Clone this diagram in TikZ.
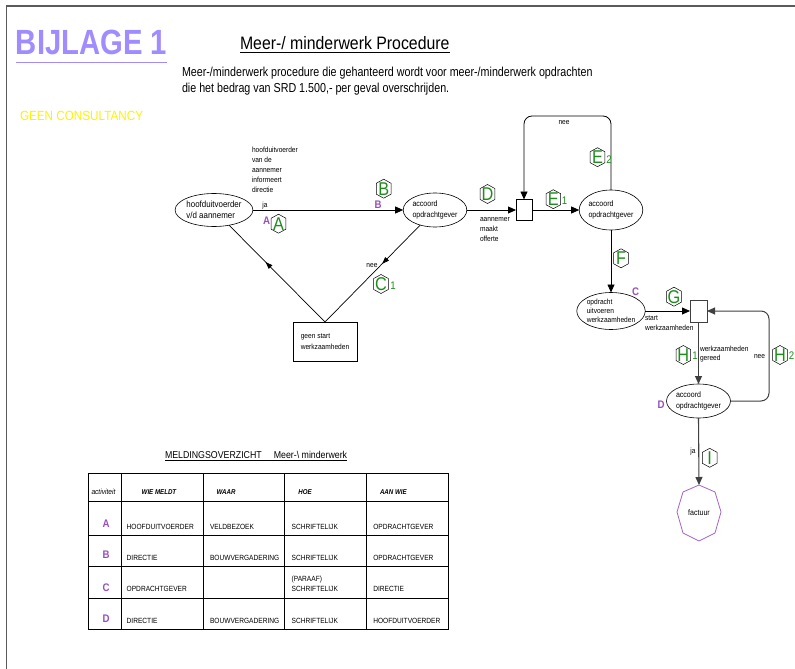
\documentclass[tikz,border=0pt]{standalone}
\usepackage{fontspec}
\setmainfont{Liberation Sans}[FakeStretch=0.88]
\usetikzlibrary{shapes.geometric,arrows.meta,decorations.markings}
\definecolor{titlepurple}{RGB}{160,140,255}
\definecolor{lpurple}{RGB}{150,80,190}
\definecolor{mgreen}{RGB}{30,140,30}
\definecolor{fpurple}{RGB}{165,100,200}
\definecolor{framegray}{RGB}{90,90,90}
\newcommand\fs[2]{\fontsize{#1}{#2}\selectfont}
\newcommand\gmark[3]{%
  \node[glet] (#1) at #2 {#3};
  \draw[line width=0.5pt] ([shift={(0,-9.5)}]#1.center) -- ([shift={(7.3,-5.5)}]#1.center) -- ([shift={(7.3,5.5)}]#1.center) -- ([shift={(0,9.5)}]#1.center) -- ([shift={(-7.3,5.5)}]#1.center) -- ([shift={(-7.3,-5.5)}]#1.center) -- cycle;}
\begin{document}
\begin{tikzpicture}[x=1pt,y=-1pt,
  every node/.style={inner sep=0pt, outer sep=0pt},
  ell/.style={draw, ellipse, line width=0.6pt, minimum width=64pt, minimum height=32pt, align=left, font=\fs{8}{11}},
  lbl/.style={font=\fs{7.5}{10}, align=left, anchor=north west},
  arr/.style={-{Triangle[length=8pt,width=7pt]}, line width=0.8pt},
  plet/.style={text=lpurple, font=\bfseries\fs{11}{11}, anchor=base},
  glet/.style={text=mgreen, font=\fs{18.5}{18.5}},
  gsub/.style={text=mgreen, font=\fs{11}{11}},
  cell/.style={font=\fs{7.5}{9}, anchor=base west, align=left},
  head/.style={font=\bfseries\itshape\fs{7}{9}, anchor=base west},
  midarr/.style={line width=0.7pt, postaction={decorate}, decoration={markings, mark=at position #1 with {\arrow{Triangle[length=7pt,width=5pt]}}}},
  ]
\useasboundingbox (0,0) rectangle (795,669);
\fill[white] (0,0) rectangle (795,669);
\draw[line width=1.5pt, framegray] (795,5.8) -- (6.7,5.8) -- (6.7,669);

% titles
\node[anchor=base west, text=titlepurple, font=\bfseries\fs{35}{35}] (title) at (16,55) {\scalebox{0.95}[1]{BIJLAGE 1}};
\draw[titlepurple, line width=1pt] ([yshift=-8pt]title.base west) -- ([yshift=-8pt]title.base east);
\node[anchor=base west, font=\fs{18}{18}] (heading) at (240,50) {Meer-/ minderwerk Procedure};
\draw[line width=0.8pt] ([yshift=-2.5pt]heading.base west) -- ([yshift=-2.5pt]heading.base east);
\node[anchor=base west, font=\fs{13}{15}] (sub1) at (182,76.5) {\scalebox{0.936}[1]{Meer-/minderwerk procedure die gehanteerd wordt voor meer-/minderwerk opdrachten}};
\node[anchor=base west, font=\fs{13}{15}] (sub2) at (182,92.5) {\scalebox{0.936}[1]{die het bedrag van SRD 1.500,- per geval overschrijden.}};
\node[anchor=base west, text=yellow, font=\fs{13.3}{13.3}] (geen) at (20,120.5) {GEEN CONSULTANCY};

% flow nodes
\node[ell, minimum width=65pt, minimum height=33pt, font=\fs{9}{11}] (a) at (214,210) {hoofduitvoerder\\v/d aannemer};
\node[ell, minimum width=62pt, minimum height=34pt] (b) at (435,210) {accoord\\opdrachtgever};
\node[draw, line width=0.7pt, minimum width=64pt, minimum height=39pt, align=left, font=\fs{7.5}{11}] (g) at (325,341.5) {geen start\\werkzaamheden};
\node[draw, line width=0.7pt, minimum width=16pt, minimum height=21pt] (s1) at (524,210) {};
\node[ell, minimum width=63pt, minimum height=40pt] (e) at (611,210) {accoord\\opdrachtgever};
\node[ell, minimum width=63pt, minimum height=37pt, font=\fs{7.5}{8.7}] (c) at (611,311) {opdracht\\uitvoeren\\werkzaamheden};
\node[draw, line width=0.8pt, draw=black!75, minimum width=17pt, minimum height=22pt] (s2) at (698.5,311) {};
\node[ell, minimum width=64pt, minimum height=34pt] (d) at (698.5,401) {accoord\\opdrachtgever};
\node[minimum width=44pt, minimum height=56pt, font=\fs{8}{8}] (f) at (699,513) {factuur};
\draw[fpurple, line width=0.8pt] (699,485) -- (715,492) -- (721,512) -- (715,533) -- (699,541) -- (683,533) -- (677,512) -- (683,492) -- cycle;

% connectors
\draw[arr] (a) -- (b);
\draw[midarr=0.4] (b) -- (g.north);
\draw[midarr=0.62] (g.north) -- (a);
\draw[arr] (b) -- (s1);
\draw[arr] (s1) -- (e);
\coordinate (eTop) at (567,116);
\draw[arr, rounded corners=8pt] (e.north) |- (eTop) -| (s1.north);
\draw[arr] (e) -- (c);
\draw[arr] (c) -- (s2);
\draw[arr, black!75, line width=1.1pt] (s2) -- (d);
\coordinate (hR) at (769,357);
\draw[arr, black!75, line width=1pt, rounded corners=8pt] (d.east) -| (hR) |- (s2.east);
\draw[arr, black!75, line width=1.1pt] (d.south) -- (f.north);

% labels
\node[lbl] (la1) at (252,147) {hoofduitvoerder\\van de\\aannemer\\informeert\\directie};
\node[font=\fs{7.5}{9}] (ja1) at (265,206) {ja};
\node[lbl] (la2) at (480,217) {aannemer\\maakt\\offerte};
\node[font=\fs{7.5}{9}] (nee1) at (564,122.5) {nee};
\node[font=\fs{7.5}{9}] (nee2) at (372,266) {nee};
\node[lbl, font=\fs{7.5}{9.5}] (la3) at (645,316) {start\\werkzaamheden};
\node[lbl, font=\fs{7.5}{9}] (la4) at (700,346) {werkzaamheden\\gereed};
\node[font=\fs{7.5}{9}] (nee3) at (759.5,357) {nee};
\node[font=\fs{7.5}{9}] (ja2) at (693,451.5) {ja};

% purple letters
\node[plet] (pA) at (266.5,224) {A};
\node[plet] (pB) at (378,208) {B};
\node[plet] (pC) at (635.5,295) {C};
\node[plet] (pD) at (661,408) {D};

% green markers
\gmark{gA}{(278.5,223.7)}{A}
\gmark{gB}{(383.7,188.7)}{B}
\gmark{gC}{(381,284)}{C}
\node[gsub] (gC1) at (393,286) {1};
\gmark{gD}{(487.5,194)}{D}
\gmark{gE}{(553.3,199.2)}{E}
\node[gsub] (gE1) at (564.5,201) {1};
\gmark{gEE}{(597.5,157.2)}{E}
\node[gsub] (gE2) at (609,160) {2};
\gmark{gF}{(621,258.3)}{F}
\gmark{gG}{(674,296.7)}{G}
\gmark{gH}{(683.3,355)}{H}
\node[gsub] (gH1) at (695,355.5) {1};
\gmark{gHH}{(780,355)}{H}
\node[gsub] (gH2) at (791.5,356) {2};
\gmark{gI}{(709.7,457.8)}{I}

% table
\node[anchor=base west, font=\fs{10}{10}] (ttl) at (165,458) {MELDINGSOVERZICHT\hspace{12pt}Meer-\textbackslash\ minderwerk};
\draw[line width=0.7pt] ([yshift=-2.5pt]ttl.base west) -- ([yshift=-2.5pt]ttl.base east);
\draw[line width=1pt] (88,473) rectangle (448,629);
\foreach \yy in {501,535,566,598} \draw[line width=1pt] (88,\yy) -- (448,\yy);
\foreach \xx in {121,203,284,366} \draw[line width=1pt] (\xx,473) -- (\xx,629);
\node[font=\itshape\fs{7.5}{9}, anchor=base west] (hact) at (91.5,494.5) {activiteit};
\node[head] (hwie) at (141.7,494.5) {WIE MELDT};
\node[head] (hwaar) at (216.7,494.5) {WAAR};
\node[head] (hhoe) at (298.3,494.5) {HOE};
\node[head] (haan) at (380,494.5) {AAN WIE};
\node[plet] (tA) at (106,527) {A};
\node[cell] (a1) at (126.7,529) {HOOFDUITVOERDER};
\node[cell] (a2) at (210,529) {VELDBEZOEK};
\node[cell] (a3) at (291.7,529) {SCHRIFTELIJK};
\node[cell] (a4) at (373.3,529) {OPDRACHTGEVER};
\node[plet] (tB) at (106,558) {B};
\node[cell] (b1) at (126.7,560) {DIRECTIE};
\node[cell] (b2) at (210,560) {BOUWVERGADERING};
\node[cell] (b3) at (291.7,560) {SCHRIFTELIJK};
\node[cell] (b4) at (373.3,560) {OPDRACHTGEVER};
\node[plet] (tC) at (106,591) {C};
\node[cell] (c1) at (126.7,591) {OPDRACHTGEVER};
\node[cell] (c3a) at (291.7,581) {(PARAAF)};
\node[cell] (c3) at (291.7,591) {SCHRIFTELIJK};
\node[cell] (c4) at (373.3,591) {DIRECTIE};
\node[plet] (tD) at (106,622) {D};
\node[cell] (d1) at (126.7,623) {DIRECTIE};
\node[cell] (d2) at (210,623) {BOUWVERGADERING};
\node[cell] (d3) at (291.7,623) {SCHRIFTELIJK};
\node[cell] (d4) at (373.3,623) {HOOFDUITVOERDER};
\end{tikzpicture}
\end{document}
